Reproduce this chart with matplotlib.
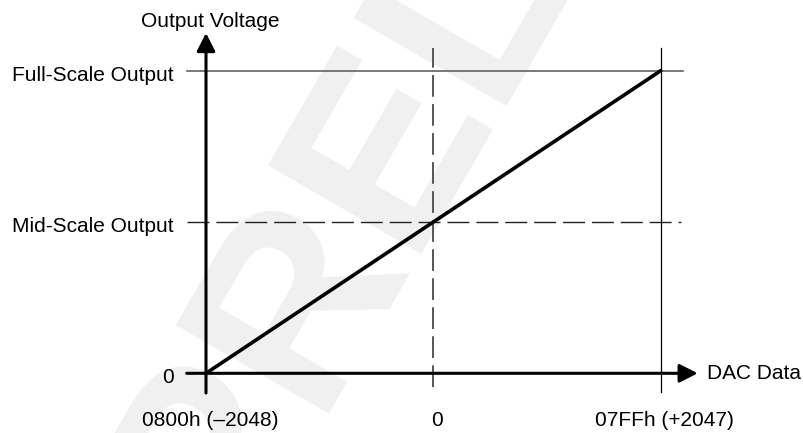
import matplotlib
matplotlib.use('Agg')
from matplotlib import pyplot as plt

plt.rcParams['font.family'] = ['Liberation Sans', 'DejaVu Sans']
plt.rcParams['lines.scale_dashes'] = False

# DAC codes (two's complement) and the normalised output levels
code_values = [-2048, 0, 2047]
code_labels = ['0800h (\u20132048)', '0', '07FFh (+2047)']
level_values = [0.0, 0.5, 1.0]
level_labels = ['0', 'Mid-Scale Output', 'Full-Scale Output']
transfer_code = [-2048, 2047]
transfer_out = [0.0, 1.0]

W, H = 804, 433
# pixel anchors of the plot frame
X0, X1 = 206.0, 660.7   # code -2048 / +2047
Y0, Y1 = 373.3, 70.7    # zero / full scale


def main():
  fig = plt.figure(figsize=(W / 100, H / 100), dpi=100)
  ax = fig.add_axes([X0 / W, (H - Y0) / H, (X1 - X0) / W, (Y0 - Y1) / H])
  ax.set_xlim(code_values[0], code_values[-1])
  ax.set_ylim(level_values[0], level_values[-1])
  ax.axis('off')

  kx = (X1 - X0) / (code_values[-1] - code_values[0])
  ky = (Y0 - Y1) / (level_values[-1] - level_values[0])
  px_x = lambda p: code_values[0] + (p - X0) / kx
  px_y = lambda p: level_values[0] + (Y0 - p) / ky

  # faint watermark, behind everything
  fig.text(228 / W, 1 - 560 / H, 'PRELIMINARY', rotation=60,
           rotation_mode='anchor', ha='left', va='baseline',
           fontsize=184, fontweight='bold', color='#f0f0f0', zorder=-5)

  # full scale and mid scale reference lines
  ax.plot([px_x(187), px_x(683.3)], [level_values[2]] * 2, color='#555555',
          lw=1.1, clip_on=False, zorder=2)
  ax.plot([px_x(187), px_x(680.7)], [level_values[1]] * 2, color='#222222',
          lw=1.0, ls=(0, (15.8, 5.0)), clip_on=False, zorder=2)
  ax.plot([code_values[1]] * 2, [px_y(386.7), px_y(48.3)], color='#555555',
          lw=1.4, ls=(0, (15.6, 5.3)), clip_on=False, zorder=2)
  ax.plot([code_values[2]] * 2, [px_y(391.7), px_y(48.3)], color='black',
          lw=0.9, clip_on=False, zorder=2)

  # axes with arrow heads
  head = '-|>,head_length=0.55,head_width=0.28'
  ax.annotate('', xy=(code_values[0], px_y(33)),
              xytext=(code_values[0], px_y(393)),
              arrowprops=dict(arrowstyle=head, color='black', lw=2.2,
                              mutation_scale=20, shrinkA=0, shrinkB=0),
              annotation_clip=False, zorder=3)
  ax.annotate('', xy=(px_x(697.7), level_values[0]),
              xytext=(px_x(186.7), level_values[0]),
              arrowprops=dict(arrowstyle=head, color='black', lw=2.2,
                              mutation_scale=20, shrinkA=0, shrinkB=0),
              annotation_clip=False, zorder=3)

  # transfer function
  ax.plot(transfer_code, transfer_out, color='black', lw=2.6,
          solid_capstyle='round', clip_on=False, zorder=4)

  # labels
  for lv, lab in zip(level_values, level_labels):
    ax.text(px_x(174), lv - 10 / ky, lab, ha='right', va='baseline',
            fontsize=15)
  for cv, lab in zip(code_values, code_labels):
    ax.text(cv + 4 / kx, px_y(426), lab, ha='center', va='baseline',
            fontsize=15)
  ax.text(code_values[0] + 4 / kx, px_y(27), 'Output Voltage',
          ha='center', va='baseline', fontsize=15)
  ax.text(px_x(706.7), level_values[0] - 6 / ky, 'DAC Data',
          ha='left', va='baseline', fontsize=15)

  fig.savefig('out.png', dpi=100)


if __name__ == "__main__":
  main()
